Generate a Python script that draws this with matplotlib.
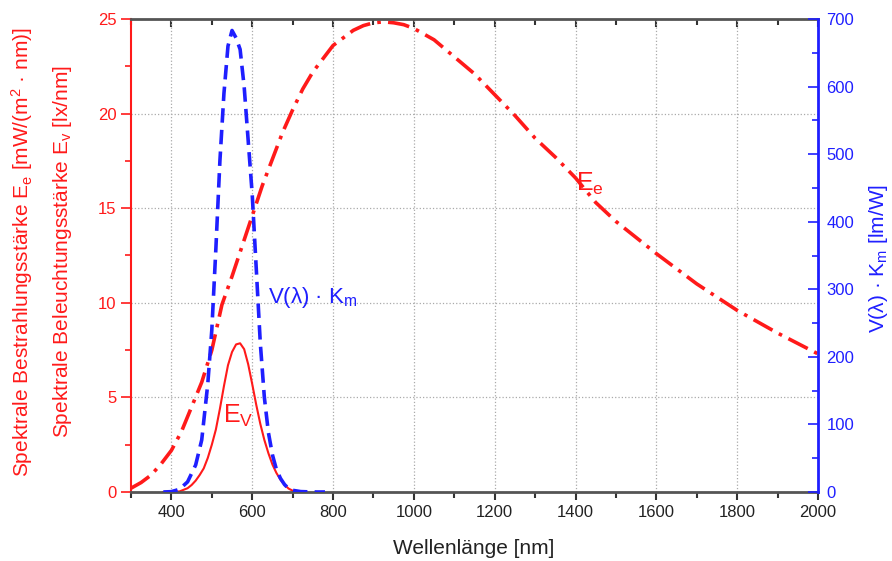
import matplotlib.pyplot as plt
from matplotlib.ticker import MultipleLocator

plt.rcParams['font.family'] = ['Liberation Sans', 'DejaVu Sans']
plt.rcParams['mathtext.fontset'] = 'custom'
plt.rcParams['mathtext.rm'] = 'Liberation Sans'
plt.rcParams['mathtext.it'] = 'Liberation Sans'

# spectral irradiance E_e [mW/(m^2 nm)]
ee_wl = [300, 325, 350, 375, 400, 425, 450, 475, 500, 525, 550, 575, 600, 625, 650, 675,
         700, 725, 750, 775, 800, 825, 850, 875, 900, 925, 950, 975, 1000, 1050, 1100,
         1150, 1200, 1250, 1300, 1350, 1400, 1450, 1500, 1600, 1700, 1800, 1900, 2000]
ee_val = [0.2, 0.5, 0.9, 1.5, 2.2, 3.2, 4.5, 5.8, 7.5, 9.9, 11.4, 13.0, 14.6, 16.2, 17.6, 19.0,
          20.2, 21.3, 22.2, 22.9, 23.6, 24.0, 24.4, 24.65, 24.8, 24.85, 24.8, 24.7, 24.5,
          23.9, 23.0, 22.1, 21.0, 19.9, 18.7, 17.7, 16.6, 15.3, 14.3, 12.6, 11.0, 9.6, 8.4, 7.3]

# V(lambda) * Km [lm/W]
v_wl = [380, 400, 420, 440, 460, 475, 490, 500, 510, 520, 530, 540, 550, 560, 570,
        580, 590, 600, 610, 620, 630, 640, 650, 660, 670, 680, 690, 700, 720, 740, 760, 780]
v_val = [0, 0.5, 4, 15, 40, 77, 160, 240, 360, 490, 590, 660, 683, 672, 655,
         600, 520, 440, 330, 220, 140, 88, 55, 33, 20, 11, 5, 2.5, 0.6, 0.2, 0, 0]

# illuminance E_v [lx/nm]
evl_wl = [380, 420, 440, 450, 460, 470, 480, 490, 500, 510, 520, 530, 540, 550, 560, 570,
          580, 590, 600, 610, 620, 630, 640, 650, 660, 670, 680, 690, 700, 710]
evl_val = [0, 0.03, 0.2, 0.37, 0.6, 0.9, 1.25, 1.8, 2.5, 3.3, 4.4, 5.6, 6.7, 7.4, 7.8, 7.86,
           7.55, 6.75, 5.7, 4.6, 3.6, 2.75, 2.05, 1.45, 1.0, 0.65, 0.38, 0.18, 0.07, 0.02]

RED = '#ff1a1a'
BLUE = '#1f1fff'
GRAY = '#555555'

fig = plt.figure(figsize=(8.92, 5.61), dpi=100)
ax = fig.add_axes([131 / 892, 69 / 561, 687 / 892, 473 / 561])
ax2 = ax.twinx()

ax.plot(ee_wl, ee_val, color=RED, lw=2.6, dashes=(6, 2, 1, 2))
ax.plot(evl_wl, evl_val, color=RED, lw=1.5)
ax2.plot(v_wl, v_val, color=BLUE, lw=2.6, dashes=(4, 2))

ax.set_xlim(300, 2000)
ax.set_ylim(0, 25)
ax2.set_ylim(0, 700)

ax.xaxis.set_major_locator(MultipleLocator(200))
ax.xaxis.set_minor_locator(MultipleLocator(100))
ax.yaxis.set_major_locator(MultipleLocator(5))
ax.yaxis.set_minor_locator(MultipleLocator(2.5))
ax2.yaxis.set_major_locator(MultipleLocator(100))
ax2.yaxis.set_minor_locator(MultipleLocator(50))

ax.grid(True, which='major', color='#aaaaaa', ls=':', lw=0.9)
ax.set_axisbelow(True)

for s in ['top', 'bottom']:
    ax.spines[s].set_color(GRAY)
    ax.spines[s].set_linewidth(2)
ax.spines['left'].set_color(RED)
ax.spines['left'].set_linewidth(1.5)
ax2.spines['left'].set_visible(False)
ax2.spines['top'].set_visible(False)
ax2.spines['bottom'].set_visible(False)
ax2.spines['right'].set_color(BLUE)
ax2.spines['right'].set_linewidth(2)
ax.spines['right'].set_visible(False)

# bottom ticks outward, top ticks inward
ax.tick_params(axis='x', which='both', direction='out', top=False, color='#333333',
               labelsize=12, labelcolor='#222222', width=1.5)
ax.tick_params(axis='x', which='major', length=6)
ax.tick_params(axis='x', which='minor', length=4)
top = ax.secondary_xaxis('top')
top.xaxis.set_major_locator(MultipleLocator(200))
top.xaxis.set_minor_locator(MultipleLocator(100))
top.tick_params(axis='x', which='both', direction='in', labeltop=False, color='#333333', width=1.5)
top.tick_params(axis='x', which='major', length=6)
top.tick_params(axis='x', which='minor', length=4)
top.spines['top'].set_visible(False)

ax.tick_params(axis='y', which='both', direction='out', colors=RED, labelsize=12, width=1.2)
ax.tick_params(axis='y', which='major', length=7)
ax.tick_params(axis='y', which='minor', length=4)
ax2.tick_params(axis='y', which='both', direction='in', colors=BLUE, labelsize=12, width=1.2)
ax2.tick_params(axis='y', which='major', length=7, pad=6)
ax2.tick_params(axis='y', which='minor', length=4)

fig.text(22 / 892, 1 - 252 / 561,
         r'Spektrale Bestrahlungsstärke $\mathrm{E_e}$ [mW/(m$^2$ · nm)]',
         rotation=90, color=RED, fontsize=15, ha='center', va='center')
fig.text(62 / 892, 1 - 252 / 561,
         r'Spektrale Beleuchtungsstärke $\mathrm{E_v}$ [lx/nm]',
         rotation=90, color=RED, fontsize=15, ha='center', va='center')
fig.text(878 / 892, 1 - 258 / 561, r'V(λ) · $\mathrm{K_m}$ [lm/W]',
         rotation=90, color=BLUE, fontsize=15, ha='center', va='center')
fig.text(474 / 892, 3 / 561, 'Wellenlänge [nm]', color='#222222',
         fontsize=15, ha='center', va='bottom')

ax.text(638, 10.3, r'V(λ) · $\mathrm{K_m}$', color=BLUE, fontsize=16, ha='left', va='center')
ax.text(1400, 16.3, r'$\mathrm{E_e}$', color=RED, fontsize=18, ha='left', va='center')
ax.text(528, 4.0, r'$\mathrm{E_V}$', color=RED, fontsize=18, ha='left', va='center')

fig.savefig('out.png', dpi=100)
